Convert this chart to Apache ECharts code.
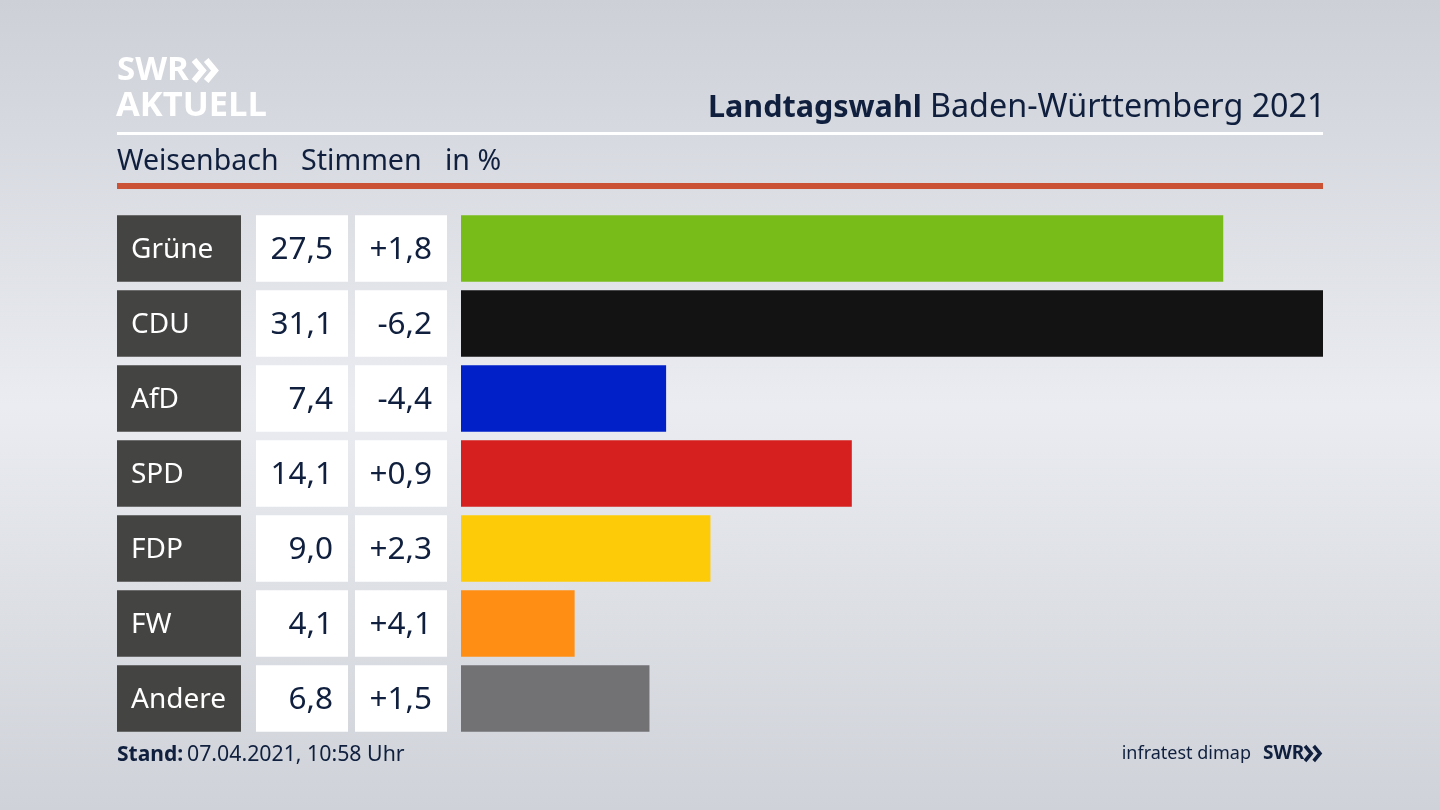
<!DOCTYPE html>
<html>
<head>
<meta charset="utf-8">
<style>html,body{margin:0;padding:0;background:#d8dbe1}#main{width:1440px;height:810px}</style>
<script src="https://cdn.jsdelivr.net/npm/echarts@6/dist/echarts.min.js"></script>
</head>
<body>
<div id="main"></div>
<script>
var parties = ['Grüne', 'CDU', 'AfD', 'SPD', 'FDP', 'FW', 'Andere'];
var shares = [27.5, 31.1, 7.4, 14.1, 9.0, 4.1, 6.8];
var changes = [1.8, -6.2, -4.4, 0.9, 2.3, 4.1, 1.5];
var partyColors = ['#78bc1a', '#131313', '#0120c8', '#d6201f', '#fecb09', '#fe8f14', '#727274'];

var ink = '#0f1f3d';
var font = '"Noto Sans"';

function de(v) { return v.toFixed(1).replace('.', ','); }
function signed(v) { return (v > 0 ? '+' : '') + de(v); }

// one table column = a grid holding one full-width bar per party
var columns = [
  { left: 117, width: 124, color: '#444442', text: '#ffffff', size: 28, pos: 'insideLeft', dist: 14, fmt: function (i) { return parties[i]; } },
  { left: 256, width: 92, color: '#ffffff', text: ink, size: 31.5, pos: 'insideRight', dist: 15, fmt: function (i) { return de(shares[i]); } },
  { left: 355, width: 92, color: '#ffffff', text: ink, size: 31.5, pos: 'insideRight', dist: 15, fmt: function (i) { return signed(changes[i]); } }
];

var grids = [], xAxes = [], yAxes = [], series = [];
columns.forEach(function (c, n) {
  grids.push({ left: c.left, width: c.width, top: 211, height: 525 });
  xAxes.push({ gridIndex: n, type: 'value', min: 0, max: 1, show: false });
  yAxes.push({ gridIndex: n, type: 'category', inverse: true, data: parties, show: false });
  series.push({
    type: 'bar', xAxisIndex: n, yAxisIndex: n, barWidth: 66.5, silent: true,
    data: parties.map(function () { return 1; }),
    itemStyle: { color: c.color },
    label: {
      show: true, position: c.pos, distance: c.dist, offset: [0, 2], color: c.text,
      fontFamily: font, fontSize: c.size,
      formatter: function (p) { return c.fmt(p.dataIndex); }
    }
  });
});

// the actual result bars
grids.push({ left: 461, width: 862, top: 211, height: 525 });
xAxes.push({ gridIndex: 3, type: 'value', min: 0, max: 31.1, show: false });
yAxes.push({ gridIndex: 3, type: 'category', inverse: true, data: parties, show: false });
series.push({
  type: 'bar', xAxisIndex: 3, yAxisIndex: 3, barWidth: 66.5, silent: true,
  data: shares.map(function (v, i) { return { value: v, itemStyle: { color: partyColors[i] } }; })
});

function txt(x, y, rich, align) {
  return { type: 'text', x: x, y: y, style: Object.assign({ fontFamily: font, fill: ink, align: align || 'left', verticalAlign: 'middle' }, rich) };
}
function chevrons(x, y, h, color, w) {
  return [0, 1].map(function (k) {
    var o = x + k * h * 0.58;
    return { type: 'polyline', shape: { points: [[o, y], [o + h * 0.42, y + h / 2], [o, y + h]] }, style: { stroke: color, lineWidth: w, fill: null } };
  });
}

var myChart = echarts.init(document.getElementById('main'));
myChart.setOption({
  animation: false,
  backgroundColor: {
    type: 'linear', x: 0, y: 0, x2: 0, y2: 1,
    colorStops: [{ offset: 0, color: '#cdd0d7' }, { offset: 0.5, color: '#eaecf1' }, { offset: 1, color: '#cfd2d8' }]
  },
  grid: grids,
  xAxis: xAxes,
  yAxis: yAxes,
  series: series,
  graphic: [
    { type: 'rect', shape: { x: 117, y: 132, width: 1206, height: 3 }, style: { fill: '#ffffff' } },
    { type: 'rect', shape: { x: 117, y: 183, width: 1206, height: 6 }, style: { fill: '#cc5236' } },
    txt(117, 71, { text: 'SWR', fontSize: 33, fontWeight: 'bold', fill: '#ffffff', fontFamily: '"Open Sans"' }),
    txt(116, 106, { text: 'AKTUELL', fontSize: 34.5, fontWeight: 'bold', fill: '#ffffff', fontFamily: '"Open Sans"' }),
    txt(708, 108, { text: 'Landtagswahl', fontSize: 30.5, fontWeight: 'bold' }),
    txt(930, 108, { text: 'Baden-Württemberg 2021', fontSize: 32.3 }),
    txt(117, 162, { text: 'Weisenbach', fontSize: 28.5 }),
    txt(301, 162, { text: 'Stimmen', fontSize: 28.6 }),
    txt(445, 162, { text: 'in %', fontSize: 28.5 }),
    txt(117, 755, { text: 'Stand:', fontSize: 21, fontWeight: 'bold' }),
    txt(187, 755, { text: '07.04.2021, 10:58 Uhr', fontSize: 21.3 }),
    txt(1251, 754, { text: 'infratest dimap', fontSize: 18 }, 'right'),
    txt(1263, 754, { text: 'SWR', fontSize: 19, fontWeight: 'bold' })
  ].concat(chevrons(194, 60, 21, '#ffffff', 6), chevrons(1305, 746, 15, ink, 3.5))
});
</script>
</body>
</html>
